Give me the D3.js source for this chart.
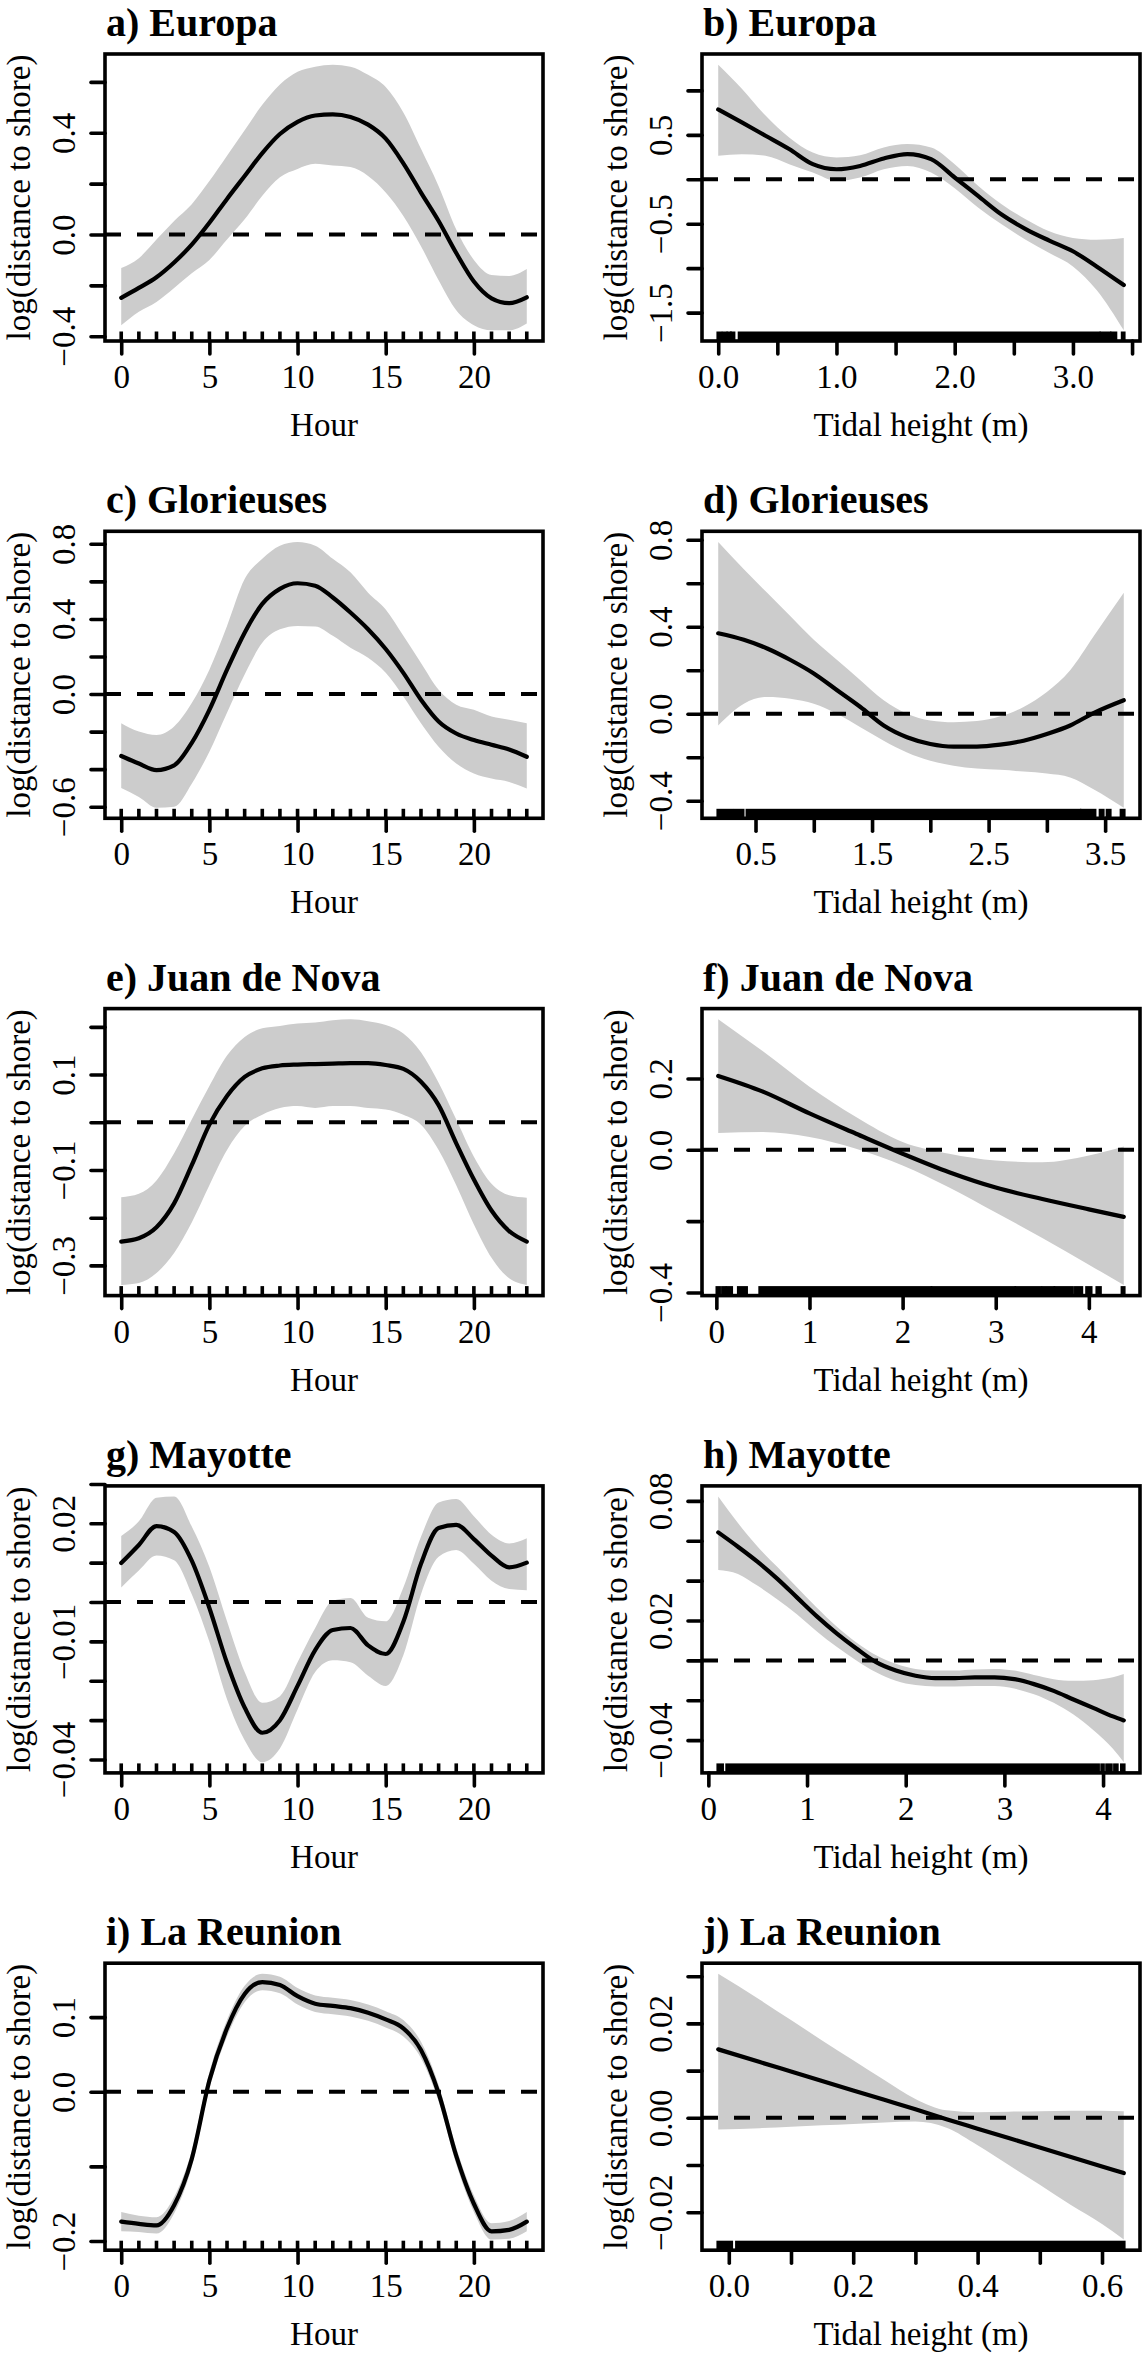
<!DOCTYPE html>
<html><head><meta charset="utf-8">
<script src="https://cdn.jsdelivr.net/npm/d3@7"></script>
<style>body{margin:0;background:#fff}svg{display:block}</style>
</head><body>
<script>
// ---------------- DATA ----------------
const hours = [0,1,2,3,4,5,6,7,8,9,10,11,12,13,14,15,16,17,18,19,20,21,22,23];
const hourTicks = [0,5,10,15,20];
const hourLabels = [0,5,10,15,20];

// a) Europa - hour
const aFit = [-0.249,-0.21,-0.168,-0.11,-0.04,0.046,0.14,0.23,0.32,0.395,0.443,0.468,0.472,0.462,0.432,0.377,0.28,0.165,0.053,-0.073,-0.185,-0.251,-0.27,-0.247];
const aHi  = [-0.132,-0.093,-0.02,0.053,0.119,0.21,0.31,0.41,0.51,0.59,0.64,0.66,0.668,0.66,0.628,0.58,0.48,0.337,0.19,0.02,-0.1,-0.159,-0.163,-0.136];
const aLo  = [-0.357,-0.304,-0.265,-0.21,-0.152,-0.1,-0.02,0.06,0.152,0.225,0.258,0.278,0.271,0.265,0.23,0.165,0.073,-0.046,-0.18,-0.298,-0.357,-0.377,-0.377,-0.35];
const aYTicks = [-0.4,-0.2,0,0.2,0.4,0.6];
const aYLabels = [-0.4,0,0.4];

// b) Europa - tidal height
const bX   = [0,0.2,0.4,0.6,0.8,1.0,1.2,1.4,1.6,1.8,2.0,2.2,2.4,2.6,2.8,3.0,3.2,3.43];
const bFit = [0.785,0.64,0.49,0.34,0.17,0.113,0.15,0.234,0.283,0.226,0.02,-0.19,-0.40,-0.56,-0.69,-0.81,-0.98,-1.19];
const bHi  = [1.29,1.02,0.717,0.47,0.30,0.245,0.27,0.358,0.396,0.358,0.17,-0.075,-0.283,-0.45,-0.585,-0.66,-0.68,-0.66];
const bLo  = [0.264,0.283,0.264,0.17,0.075,-0.019,0.019,0.113,0.15,0.075,-0.1,-0.32,-0.51,-0.68,-0.83,-0.98,-1.245,-1.70];
const bRug = [[0,0.02],[0.045,0.065],[0.085,0.1],[0.115,0.13],[0.18,3.22],[3.24,3.31],[3.33,3.36],[3.42,3.43]];
const bXTicks = [0,0.5,1,1.5,2,2.5,3,3.5];
const bXLabels = [0,1,2,3];
const bYTicks = [-1.5,-1,-0.5,0,0.5,1];
const bYLabels = [-1.5,-0.5,0.5];

// c) Glorieuses - hour
const cFit = [-0.33,-0.37,-0.405,-0.38,-0.26,-0.084,0.13,0.327,0.48,0.56,0.59,0.577,0.514,0.434,0.345,0.24,0.113,-0.03,-0.146,-0.21,-0.245,-0.27,-0.295,-0.334];
const cHi  = [-0.155,-0.2,-0.218,-0.173,-0.048,0.13,0.363,0.613,0.72,0.79,0.81,0.79,0.72,0.648,0.54,0.45,0.31,0.166,0.023,-0.057,-0.084,-0.12,-0.137,-0.155];
const cLo  = [-0.50,-0.548,-0.605,-0.60,-0.477,-0.307,-0.1,0.104,0.273,0.345,0.363,0.36,0.31,0.246,0.193,0.113,-0.0125,-0.155,-0.28,-0.37,-0.423,-0.45,-0.468,-0.503];
const cYTicks = [-0.6,-0.4,-0.2,0,0.2,0.4,0.6,0.8];
const cYLabels = [-0.6,0,0.4,0.8];

// d) Glorieuses - tidal height
const dX   = [0.18,0.4,0.6,0.8,1.0,1.2,1.4,1.6,1.8,2.0,2.2,2.4,2.6,2.8,3.0,3.2,3.4,3.66];
const dFit = [0.37,0.34,0.30,0.247,0.185,0.108,0.031,-0.054,-0.108,-0.139,-0.151,-0.151,-0.142,-0.124,-0.093,-0.054,0.003,0.062];
const dHi  = [0.79,0.664,0.556,0.448,0.34,0.247,0.154,0.062,0.0,-0.031,-0.039,-0.034,-0.012,0.031,0.1,0.2,0.355,0.556];
const dLo  = [-0.054,0.046,0.077,0.069,0.046,0.0,-0.062,-0.124,-0.178,-0.216,-0.239,-0.252,-0.258,-0.266,-0.275,-0.293,-0.347,-0.432];
const dRug = [[0.18,0.3],[0.33,0.39],[0.43,3.28],[3.3,3.41],[3.46,3.48],[3.52,3.54],[3.64,3.66]];
const dXTicks = [0.5,1,1.5,2,2.5,3,3.5];
const dXLabels = [0.5,1.5,2.5,3.5];
const dYTicks = [-0.4,-0.2,0,0.2,0.4,0.6,0.8];
const dYLabels = [-0.4,0,0.4,0.8];

// e) Juan de Nova - hour
const eFit = [-0.25,-0.243,-0.22,-0.17,-0.09,-0.005,0.055,0.095,0.113,0.119,0.121,0.122,0.123,0.124,0.124,0.12,0.112,0.085,0.036,-0.044,-0.12,-0.185,-0.228,-0.25];
const eHi  = [-0.157,-0.15,-0.122,-0.065,0.006,0.076,0.14,0.179,0.197,0.202,0.207,0.209,0.214,0.216,0.212,0.204,0.186,0.147,0.083,0.006,-0.072,-0.129,-0.153,-0.158];
const eLo  = [-0.341,-0.337,-0.316,-0.274,-0.21,-0.132,-0.058,-0.008,0.016,0.03,0.034,0.03,0.034,0.034,0.03,0.027,0.016,-0.005,-0.058,-0.132,-0.214,-0.284,-0.327,-0.341];
const eYTicks = [-0.3,-0.2,-0.1,0,0.1,0.2];
const eYLabels = [-0.3,-0.1,0.1];

// f) Juan de Nova - tidal height
const fX   = [0.02,0.5,1.0,1.5,2.0,2.5,3.0,3.5,4.0,4.375];
const fFit = [0.207,0.163,0.102,0.045,-0.011,-0.063,-0.106,-0.138,-0.167,-0.188];
const fHi  = [0.366,0.276,0.177,0.092,0.022,-0.011,-0.03,-0.035,-0.016,0.009];
const fLo  = [0.047,0.05,0.036,0.003,-0.044,-0.106,-0.176,-0.247,-0.322,-0.379];
const fRug = [[0.01,0.03],[0.07,0.09],[0.12,0.16],[0.24,0.32],[0.47,2.3],[2.32,3.2],[3.22,3.48],[3.51,3.62],[3.64,3.82],[3.86,3.92],[3.98,4.02],[4.09,4.12],[4.36,4.375]];
const fXTicks = [0,1,2,3,4];
const fXLabels = [0,1,2,3,4];
const fYTicks = [-0.4,-0.2,0,0.2];
const fYLabels = [-0.4,0,0.2];

// g) Mayotte - hour
const gFit = [0.0099,0.0145,0.0193,0.0178,0.0105,-0.0015,-0.0155,-0.0268,-0.0332,-0.0300,-0.0213,-0.0122,-0.0071,-0.0066,-0.0110,-0.0132,-0.0050,0.0097,0.0188,0.0196,0.0160,0.0118,0.0088,0.0100];
const gHi  = [0.0168,0.0205,0.0265,0.0268,0.0192,0.0089,-0.0049,-0.0178,-0.0256,-0.0239,-0.0153,-0.0066,0.0003,0.0010,-0.0040,-0.0049,0.0037,0.0166,0.0253,0.0262,0.0218,0.0171,0.0149,0.0162];
const gLo  = [0.0037,0.0080,0.0118,0.0106,0.0020,-0.0101,-0.0247,-0.0351,-0.0407,-0.0372,-0.0273,-0.0178,-0.0148,-0.0153,-0.0187,-0.0213,-0.0135,0.0020,0.0115,0.0132,0.0097,0.0054,0.0033,0.0030];
const gYTicks = [-0.04,-0.03,-0.02,-0.01,0,0.01,0.02,0.03];
const gYLabels = [-0.04,-0.01,0.02];

// h) Mayotte - tidal height
const hX   = [0.1,0.3,0.5,0.7,0.9,1.1,1.3,1.5,1.7,1.9,2.1,2.3,2.5,2.7,2.9,3.1,3.3,3.5,3.7,3.9,4.1,4.21];
const hFit = [0.0642,0.057,0.0494,0.0409,0.0315,0.0221,0.0136,0.006,-0.0009,-0.0051,-0.0077,-0.0089,-0.0089,-0.0085,-0.0085,-0.0094,-0.0119,-0.0153,-0.0196,-0.0238,-0.0281,-0.0301];
const hHi  = [0.0822,0.0689,0.057,0.0468,0.0366,0.0264,0.017,0.009,0.0026,-0.0017,-0.0043,-0.0051,-0.0051,-0.0046,-0.0043,-0.0051,-0.0073,-0.0094,-0.0102,-0.0099,-0.0085,-0.0068];
const hLo  = [0.0454,0.0434,0.0374,0.0306,0.023,0.0145,0.0068,0.0,-0.006,-0.0102,-0.0124,-0.0131,-0.0131,-0.0128,-0.0128,-0.0141,-0.017,-0.0213,-0.0272,-0.0349,-0.0443,-0.0511];
const hRug = [[0.1,0.14],[0.19,3.95],[3.99,4.0],[4.04,4.08],[4.12,4.14],[4.19,4.21]];
const hXTicks = [0,1,2,3,4];
const hXLabels = [0,1,2,3,4];
const hYTicks = [-0.04,-0.02,0,0.02,0.04,0.06,0.08];
const hYLabels = [-0.04,0.02,0.08];

// i) La Reunion - hour
const iFit = [-0.174,-0.177,-0.179,-0.152,-0.09,0.015,0.085,0.131,0.147,0.143,0.128,0.118,0.115,0.112,0.106,0.097,0.085,0.056,-0.002,-0.086,-0.150,-0.187,-0.185,-0.174];
const iHi  = [-0.161,-0.166,-0.168,-0.141,-0.079,0.026,0.096,0.142,0.158,0.154,0.139,0.129,0.126,0.123,0.117,0.108,0.096,0.067,0.009,-0.075,-0.139,-0.176,-0.173,-0.161];
const iLo  = [-0.187,-0.188,-0.190,-0.163,-0.101,0.004,0.074,0.120,0.136,0.132,0.117,0.107,0.104,0.101,0.095,0.086,0.074,0.045,-0.013,-0.097,-0.161,-0.198,-0.197,-0.187];
const iYTicks = [-0.2,-0.1,0,0.1];
const iYLabels = [-0.2,0,0.1];

// j) La Reunion - tidal height
const jX   = [-0.017,0.05,0.1,0.15,0.2,0.25,0.3,0.35,0.4,0.45,0.5,0.55,0.6,0.635];
const jFit = [0.0145,0.0118,0.0098,0.0078,0.0058,0.0038,0.0018,-0.0003,-0.0023,-0.0043,-0.0063,-0.0083,-0.0103,-0.0117];
const jHi  = [0.0305,0.0250,0.0207,0.0164,0.0122,0.0080,0.0040,0.0016,0.0012,0.0013,0.0014,0.0015,0.0015,0.0014];
const jLo  = [-0.0025,-0.0022,-0.0019,-0.0016,-0.0013,-0.0010,-0.0008,-0.0021,-0.0058,-0.0100,-0.0142,-0.0185,-0.0225,-0.0258];
const jRug = [[-0.017,0.004],[0.013,0.635]];
const jXTicks = [0,0.1,0.2,0.3,0.4,0.5,0.6];
const jXLabels = [0,0.2,0.4,0.6];
const jYTicks = [-0.02,-0.01,0,0.01,0.02,0.03];
const jYLabels = [-0.02,0,0.02];

const titles = ["a) Europa","b) Europa","c) Glorieuses","d) Glorieuses","e) Juan de Nova","f) Juan de Nova","g) Mayotte","h) Mayotte","i) La Reunion","j) La Reunion"];
const yTitle = "log(distance to shore)";
const xTitles = ["Hour","Tidal height (m)"];

// ---------------- PANELS ----------------
const hourRug = hours.map(h => [h, h]);
const panels = [
  {x:hours,fit:aFit,hi:aHi,lo:aLo,rug:hourRug,xt:hourTicks,xl:hourLabels,xd:0,yt:aYTicks,yl:aYLabels,yd:1},
  {x:bX,fit:bFit,hi:bHi,lo:bLo,rug:bRug,xt:bXTicks,xl:bXLabels,xd:1,yt:bYTicks,yl:bYLabels,yd:1},
  {x:hours,fit:cFit,hi:cHi,lo:cLo,rug:hourRug,xt:hourTicks,xl:hourLabels,xd:0,yt:cYTicks,yl:cYLabels,yd:1},
  {x:dX,fit:dFit,hi:dHi,lo:dLo,rug:dRug,xt:dXTicks,xl:dXLabels,xd:1,yt:dYTicks,yl:dYLabels,yd:1},
  {x:hours,fit:eFit,hi:eHi,lo:eLo,rug:hourRug,xt:hourTicks,xl:hourLabels,xd:0,yt:eYTicks,yl:eYLabels,yd:1},
  {x:fX,fit:fFit,hi:fHi,lo:fLo,rug:fRug,xt:fXTicks,xl:fXLabels,xd:0,yt:fYTicks,yl:fYLabels,yd:1},
  {x:hours,fit:gFit,hi:gHi,lo:gLo,rug:hourRug,xt:hourTicks,xl:hourLabels,xd:0,yt:gYTicks,yl:gYLabels,yd:2},
  {x:hX,fit:hFit,hi:hHi,lo:hLo,rug:hRug,xt:hXTicks,xl:hXLabels,xd:0,yt:hYTicks,yl:hYLabels,yd:2},
  {x:hours,fit:iFit,hi:iHi,lo:iLo,rug:hourRug,xt:hourTicks,xl:hourLabels,xd:0,yt:iYTicks,yl:iYLabels,yd:1},
  {x:jX,fit:jFit,hi:jHi,lo:jLo,rug:jRug,xt:jXTicks,xl:jXLabels,xd:1,yt:jYTicks,yl:jYLabels,yd:2}
];

const W = 1142, H = 2357;
const FONT = "'Liberation Serif','Times New Roman',Times,serif";
const svg = d3.select("body").append("svg").attr("width", W).attr("height", H)
  .style("background", "#fff");

const boxW = 438, boxH = 287, LW = 3.6, FS = 33;

panels.forEach((p, k) => {
  const col = k % 2, row = Math.floor(k / 2);
  const left = 105 + 597 * col;
  const top = 54 + 477.3 * row;
  const g = svg.append("g");

  const xe = d3.extent(p.x), xp = (xe[1] - xe[0]) * 0.04;
  const x = d3.scaleLinear().domain([xe[0] - xp, xe[1] + xp]).range([left, left + boxW]);
  const ye = [d3.min(p.lo), d3.max(p.hi)], yp = (ye[1] - ye[0]) * 0.04;
  const y = d3.scaleLinear().domain([ye[0] - yp, ye[1] + yp]).range([top + boxH, top]);

  const idx = d3.range(p.x.length);
  g.append("path").datum(idx)
    .attr("d", d3.area().x(i => x(p.x[i])).y0(i => y(p.lo[i])).y1(i => y(p.hi[i])).curve(d3.curveMonotoneX))
    .attr("fill", "#cccccc");
  g.append("line").attr("x1", left).attr("x2", left + boxW).attr("y1", y(0)).attr("y2", y(0))
    .attr("stroke", "#000").attr("stroke-width", 4).attr("stroke-dasharray", "16,16");
  g.append("path").datum(idx)
    .attr("d", d3.line().x(i => x(p.x[i])).y(i => y(p.fit[i])).curve(d3.curveMonotoneX))
    .attr("fill", "none").attr("stroke", "#000").attr("stroke-width", 4.2)
    .attr("stroke-linecap", "round").attr("stroke-linejoin", "round");
  g.selectAll(null).data(p.rug).enter().append("rect")
    .attr("x", d => x(d[0]) - 1.8)
    .attr("width", d => Math.max(3.6, x(d[1]) - x(d[0]) + 3.6))
    .attr("y", top + boxH - 9.5).attr("height", 9.5).attr("fill", "#000");
  g.append("rect").attr("x", left).attr("y", top).attr("width", boxW).attr("height", boxH)
    .attr("fill", "none").attr("stroke", "#000").attr("stroke-width", LW);

  const isIn = (v, arr) => arr.some(a => Math.abs(a - v) < 1e-9);
  const xf = d3.format("." + p.xd + "f");
  const xa = g.append("g").attr("transform", `translate(0,${top + boxH})`)
    .call(d3.axisBottom(x).tickValues(p.xt).tickSize(13).tickSizeOuter(0)
      .tickFormat(v => isIn(v, p.xl) ? xf(v) : ""));
  xa.select(".domain").remove();
  xa.selectAll(".tick line").attr("stroke", "#000").attr("stroke-width", LW).attr("stroke-linecap", "round");
  xa.selectAll(".tick text").attr("y", 47).attr("dy", null)
    .attr("font-family", FONT).attr("font-size", FS).attr("fill", "#000");
  const yf = d3.format("." + p.yd + "f");
  const ya = g.append("g").attr("transform", `translate(${left},0)`)
    .call(d3.axisLeft(y).tickValues(p.yt).tickSize(14).tickSizeOuter(0)
      .tickFormat(v => isIn(v, p.yl) ? yf(v) : ""));
  ya.select(".domain").remove();
  ya.selectAll(".tick line").attr("stroke", "#000").attr("stroke-width", LW).attr("stroke-linecap", "round");
  ya.selectAll(".tick text").attr("x", null).attr("dy", null)
    .attr("transform", "translate(-30,0) rotate(-90)").attr("text-anchor", "middle")
    .attr("font-family", FONT).attr("font-size", FS).attr("fill", "#000");

  g.append("text").attr("x", left + 1).attr("y", top - 18).text(titles[k])
    .attr("font-family", FONT).attr("font-weight", "bold").attr("font-size", 40).attr("fill", "#000");
  g.append("text").attr("transform", `translate(${left - 75},${top + boxH / 2}) rotate(-90)`)
    .attr("text-anchor", "middle").text(yTitle)
    .attr("font-family", FONT).attr("font-size", FS).attr("fill", "#000");
  g.append("text").attr("x", left + boxW / 2).attr("y", top + boxH + 95).attr("text-anchor", "middle")
    .text(xTitles[col]).attr("font-family", FONT).attr("font-size", FS).attr("fill", "#000");
});
</script>
</body></html>
